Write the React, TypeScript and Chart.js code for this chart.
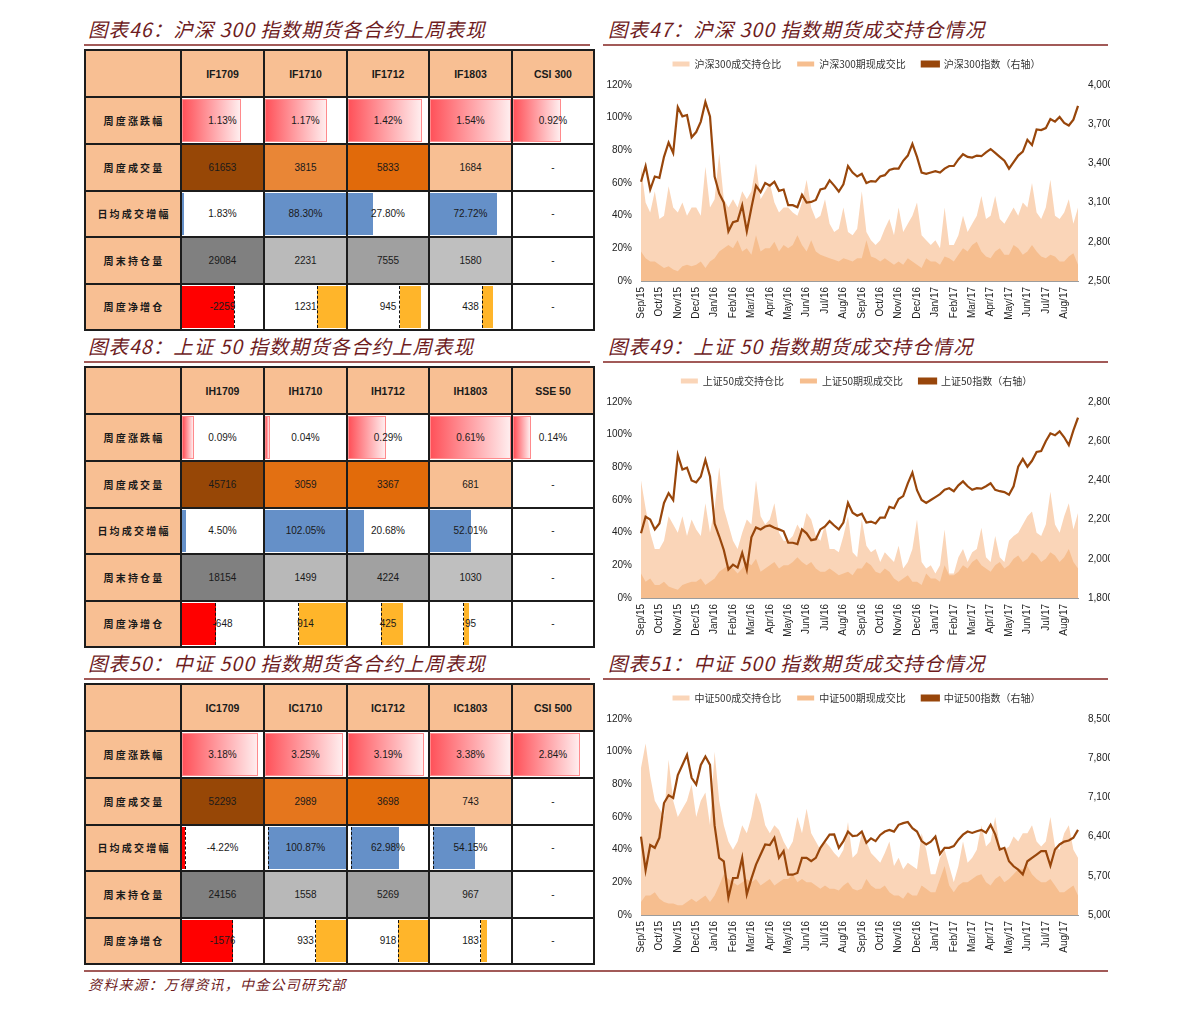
import React, { useEffect, useRef } from 'react';
import { Chart, registerables } from 'chart.js';
Chart.register(...registerables);

// ---------- chart data ----------
const months = ['Sep/15','Oct/15','Nov/15','Dec/15','Jan/16','Feb/16','Mar/16','Apr/16','May/16','Jun/16','Jul/16','Aug/16','Sep/16','Oct/16','Nov/16','Dec/16','Jan/17','Feb/17','Mar/17','Apr/17','May/17','Jun/17','Jul/17','Aug/17'];

const hs300Ratio = [70,48,42,55, 38,40,58,45, 42,48,40,45, 45,40,70,45, 50,78,50,45, 50,45,55,50, 55,72,50,55, 60,48,42,45, 45,42,40,48, 62,45,38,40, 50,35,30,32, 45,30,28,32, 55,30,25,22, 25,32,38,28, 45,30,35,40, 48,28,25,22, 25,20,45,22, 22,28,40,30, 35,40,52,38, 40,52,38,35, 40,45,40,48, 45,60,42,38, 45,62,40,38, 42,50,35,45];
const hs300FutSpot = [18,14,12,12, 10,8,9,7, 6,9,10,9, 10,12,8,12, 14,18,20,22, 20,25,18,20, 16,28,18,20, 20,24,18,22, 20,22,28,22, 18,25,18,16, 15,14,13,12, 14,13,12,14, 14,25,15,14, 12,14,12,10, 12,10,14,12, 10,8,14,12, 12,10,15,14, 12,16,20,18, 22,24,18,15, 14,18,20,16, 16,22,20,16, 18,22,18,15, 14,16,15,12, 12,15,17,10];
const hs300Index = [3260,3380,3200,3300, 3290,3450,3560,3480, 3830,3760,3770,3600, 3640,3720,3870,3760, 3300,3170,3100,2880, 2950,2960,3080,2880, 3060,3230,3180,3250, 3230,3260,3190,3200, 3080,3080,3065,3160, 3100,3105,3120,3200, 3210,3270,3230,3185, 3240,3380,3330,3300, 3320,3250,3265,3260, 3300,3310,3350,3360, 3360,3420,3460,3550, 3450,3330,3320,3330, 3340,3330,3360,3380, 3380,3430,3470,3450, 3445,3460,3455,3485, 3510,3480,3450,3420, 3360,3410,3460,3490, 3580,3540,3660,3655, 3670,3740,3720,3755, 3710,3690,3735,3840];

const sz50Ratio = [72,55,40,30, 30,35,50,45, 40,50,38,48, 42,38,58,40, 55,80,55,45, 35,30,40,48, 45,72,50,45, 48,58,40,35, 35,38,45,40, 52,48,38,35, 45,30,30,28, 38,50,28,25, 48,32,28,30, 22,28,25,22, 32,18,22,30, 48,22,18,20, 15,20,42,15, 15,25,30,22, 28,30,43,25, 22,38,25,22, 35,38,40,45, 50,53,40,38, 45,65,45,40, 50,58,42,52];
const sz50FutSpot = [15,10,12,8, 8,10,7,6, 5,8,9,10, 10,12,8,10, 12,16,18,20, 18,15,18,22, 20,24,16,18, 20,22,18,20, 20,22,25,22, 20,22,18,16, 16,18,16,14, 15,16,14,18, 18,22,20,16, 15,18,16,12, 10,12,14,10, 10,8,15,12, 12,10,20,14, 14,16,20,18, 22,24,20,18, 16,20,22,18, 20,24,26,22, 24,28,26,22, 24,28,26,22, 25,30,22,18];
const sz50Index = [2130,2215,2200,2150, 2180,2285,2335,2300, 2530,2455,2465,2400, 2390,2420,2505,2420, 2180,2115,2045,1945, 1970,1955,2030,1945, 2110,2160,2150,2165, 2170,2158,2150,2140, 2082,2082,2075,2150, 2130,2095,2100,2150, 2165,2192,2170,2150, 2185,2285,2235,2220, 2230,2185,2190,2180, 2210,2210,2265,2258, 2305,2320,2385,2440, 2350,2300,2285,2300, 2315,2330,2352,2360, 2345,2375,2395,2370, 2352,2360,2358,2370, 2385,2352,2345,2340, 2327,2370,2470,2510, 2470,2500,2545,2550, 2600,2640,2630,2650, 2620,2580,2655,2720];

const csi500Ratio = [90,105,85,70, 65,60,95,70, 60,65,70,80, 60,70,75,55, 100,70,55,45, 40,45,55,50, 60,75,68,55, 50,55,52,45, 40,45,60,50, 65,50,45,40, 45,42,38,35, 40,57,35,38, 50,45,38,35, 32,38,45,30, 35,28,32,30, 28,50,40,25, 25,35,40,30, 20,30,45,32, 35,40,55,42, 45,60,42,40, 42,48,45,50, 50,55,45,42, 45,60,42,40, 50,55,40,35];
const csi500FutSpot = [8,12,12,14, 10,8,7,7, 6,6,8,10, 8,10,12,8, 12,18,25,22, 20,18,20,22, 20,22,18,20, 22,18,20,22, 22,25,20,22, 20,20,18,16, 18,16,16,15, 18,20,16,15, 16,22,18,16, 16,18,14,12, 12,10,14,12, 12,18,16,14, 14,22,30,18, 14,18,20,20, 22,24,25,20, 18,22,24,20, 22,25,28,28, 30,25,22,20, 20,22,18,14, 14,16,18,12];
const csi500Index = [6400,5800,6250,6200, 6380,7000,7140,7090, 7500,7680,7860,7450, 7330,7680,7830,7680, 6600,6020,5960,5310, 5660,5665,6020,5370, 5650,5900,6080,6260, 6250,6380,6020,6140, 5720,5720,5750,6020, 6020,5960,6020,6200, 6320,6435,6440,6200, 6320,6490,6410,6420, 6490,6290,6370,6320, 6430,6490,6520,6490, 6610,6640,6660,6550, 6490,6320,6260,6310, 6400,6090,6200,6200, 6230,6345,6435,6490, 6465,6495,6520,6470, 6610,6440,6170,6200, 5960,5870,5810,5725, 5960,6020,6080,6140, 6140,5880,6170,6260, 6310,6330,6380,6520];

// ---------- table data ----------
const rowLabels = ['周度涨跌幅', '周度成交量', '日均成交增幅', '周末持仓量', '周度净增仓'];

const ifHeads = ['IF1709', 'IF1710', 'IF1712', 'IF1803', 'CSI 300'];
const ifChange = [1.13, 1.17, 1.42, 1.54, 0.92];
const ifVolume = [61653, 3815, 5833, 1684];
const ifDailyChg = [1.83, 88.30, 27.80, 72.72];
const ifOI = [29084, 2231, 7555, 1580];
const ifNetOI = [-2259, 1231, 945, 438];

const ihHeads = ['IH1709', 'IH1710', 'IH1712', 'IH1803', 'SSE 50'];
const ihChange = [0.09, 0.04, 0.29, 0.61, 0.14];
const ihVolume = [45716, 3059, 3367, 681];
const ihDailyChg = [4.50, 102.05, 20.68, 52.01];
const ihOI = [18154, 1499, 4224, 1030];
const ihNetOI = [-648, 914, 425, 95];

const icHeads = ['IC1709', 'IC1710', 'IC1712', 'IC1803', 'CSI 500'];
const icChange = [3.18, 3.25, 3.19, 3.38, 2.84];
const icVolume = [52293, 2989, 3698, 743];
const icDailyChg = [-4.22, 100.87, 62.98, 54.15];
const icOI = [24156, 1558, 5269, 967];
const icNetOI = [-1576, 933, 918, 183];

// ---------- styles ----------
const LIGHT = '#FAD5B8';
const DARK = '#F6BE8F';
const BROWN = '#98460B';
const PEACH = '#F8BF93';
const TITLE_RED = '#6E1C1E';
const RULE = '#A25A58';
const CJK = '"Noto Sans CJK SC", "Noto Sans", sans-serif';
const LAT = '"Liberation Sans", Arial, sans-serif';

function hexToRgb(h: string) {
  const n = parseInt(h.slice(1), 16);
  return [(n >> 16) & 255, (n >> 8) & 255, n & 255];
}
function mix(a: string, b: string, t: number) {
  const A = hexToRgb(a), B = hexToRgb(b);
  const c = A.map((v, i) => Math.round(v + (B[i] - v) * t));
  return `rgb(${c[0]},${c[1]},${c[2]})`;
}
function scale3(v: number, arr: number[], cMin: string, cMid: string, cMax: string) {
  const s = [...arr].sort((a, b) => a - b);
  const min = s[0], max = s[s.length - 1];
  const n = s.length;
  const mid = n % 2 ? s[(n - 1) / 2] : (s[n / 2 - 1] + s[n / 2]) / 2;
  if (v <= mid) return mix(cMin, cMid, mid === min ? 0 : (v - min) / (mid - min));
  return mix(cMid, cMax, max === mid ? 1 : (v - mid) / (max - mid));
}

const colX = [0, 96, 179, 262, 344, 427, 509];
const rowY = [0, 47, 94, 140.5, 187, 233.5, 280];

type TableProps = {
  top: number; heads: string[]; change: number[]; volume: number[];
  daily: number[]; oi: number[]; net: number[];
};

function DataTable({ top, heads, change, volume, daily, oi, net }: TableProps) {
  const cells: React.ReactNode[] = [];
  const left = 85;
  const cellBox = (r: number, c: number) => ({
    position: 'absolute' as const,
    left: colX[c], top: rowY[r],
    width: colX[c + 1] - colX[c], height: rowY[r + 1] - rowY[r],
  });
  const text = (t: string, bold = false, font = LAT) => (
    <div style={{ position: 'absolute', inset: 0, display: 'flex', alignItems: 'center', justifyContent: 'center', fontFamily: font, fontSize: bold ? 10.5 : 10, fontWeight: bold ? 700 : 400, color: '#1a1a1a', zIndex: 2 }}>{t}</div>
  );

  for (let c = 0; c < 6; c++) {
    cells.push(
      <div key={`h${c}`} style={{ ...cellBox(0, c), background: PEACH }}>
        {c > 0 ? text(heads[c - 1], true) : null}
      </div>
    );
  }
  for (let r = 1; r <= 5; r++) {
    cells.push(
      <div key={`l${r}`} style={{ ...cellBox(r, 0), background: PEACH, display: 'flex', alignItems: 'center', justifyContent: 'center' }}>
        <span style={{ fontFamily: CJK, fontSize: 10, fontWeight: 700, letterSpacing: 2.2, color: '#1a1a1a', paddingLeft: 2 }}>{rowLabels[r - 1]}</span>
      </div>
    );
  }

  const maxChange = Math.max(...change);
  for (let i = 0; i < 5; i++) {
    const c = i + 1;
    const w = colX[c + 1] - colX[c] - 2;
    const bw = (change[i] / maxChange) * w;
    cells.push(
      <div key={`r1${i}`} style={{ ...cellBox(1, c), background: '#fff' }}>
        <div style={{ position: 'absolute', left: 1, top: 2, bottom: 2, width: bw, boxSizing: 'border-box', border: '1px solid #FF8A8C', background: 'linear-gradient(to right, #FF525A, #FFEDEE)' }} />
        {text(change[i].toFixed(2) + '%')}
      </div>
    );
  }

  const barRow = (row: number, vals: number[], pos: string, neg: string, fmt: (v: number) => string) => {
    const mn = Math.min(0, ...vals);
    const mx = Math.max(0, ...vals);
    const range = mx - mn;
    for (let i = 0; i < 4; i++) {
      const c = i + 1;
      const w = colX[c + 1] - colX[c] - 2;
      const axis = (-mn / range) * w;
      const v = vals[i];
      const len = (Math.abs(v) / range) * w;
      const bl = v >= 0 ? axis : axis - len;
      cells.push(
        <div key={`r${row}${i}`} style={{ ...cellBox(row, c), background: '#fff' }}>
          <div style={{ position: 'absolute', left: 1 + bl, top: 2, bottom: 2, width: len, background: v >= 0 ? pos : neg }} />
          {mn < 0 ? <div style={{ position: 'absolute', left: 1 + axis - 0.5, top: 2, bottom: 2, width: 0, borderLeft: '1.5px dashed #111' }} /> : null}
          {text(fmt(v))}
        </div>
      );
    }
    cells.push(<div key={`r${row}x`} style={{ ...cellBox(row, 5), background: '#fff' }}>{text('-')}</div>);
  };

  for (let i = 0; i < 4; i++) {
    cells.push(
      <div key={`r2${i}`} style={{ ...cellBox(2, i + 1), background: scale3(volume[i], volume, PEACH, '#E26B0A', '#974706') }}>
        {text(String(volume[i]))}
      </div>
    );
  }
  cells.push(<div key="r2x" style={{ ...cellBox(2, 5), background: '#fff' }}>{text('-')}</div>);

  barRow(3, daily, '#6590C8', '#FF0000', (v) => v.toFixed(2) + '%');

  for (let i = 0; i < 4; i++) {
    cells.push(
      <div key={`r4${i}`} style={{ ...cellBox(4, i + 1), background: scale3(oi[i], oi, '#BFBFBF', '#A4A4A4', '#808080') }}>
        {text(String(oi[i]))}
      </div>
    );
  }
  cells.push(<div key="r4x" style={{ ...cellBox(4, 5), background: '#fff' }}>{text('-')}</div>);

  barRow(5, net, '#FFB52A', '#FF0000', (v) => String(v));

  const lines: React.ReactNode[] = [];
  colX.forEach((x, i) => lines.push(<div key={`vx${i}`} style={{ position: 'absolute', left: x - 1, top: -1, width: 2, height: 282, background: '#1c1c1c', zIndex: 3 }} />));
  rowY.forEach((y, i) => lines.push(<div key={`hy${i}`} style={{ position: 'absolute', left: -1, top: y - 1, width: 511, height: 2, background: '#1c1c1c', zIndex: 3 }} />));

  return (
    <div style={{ position: 'absolute', left, top, width: 509, height: 280 }}>
      {cells}
      {lines}
    </div>
  );
}

type ChartProps = {
  top: number; light: number[]; dark: number[]; index: number[];
  names: string[]; rMin: number; rMax: number; rStep: number;
};

const legendGap = {
  id: 'legendGap',
  beforeInit(chart: any) {
    const lg = chart.legend;
    if (!lg) return;
    const fit = lg.fit;
    lg.fit = function () {
      fit.bind(lg)();
      lg.height += 6;
    };
  },
};

function AreaLineChart({ top, light, dark, index, names, rMin, rMax, rStep }: ChartProps) {
  const ref = useRef<HTMLCanvasElement>(null);
  useEffect(() => {
    const labels = months.flatMap((m) => [m, '', '', '']);
    const tickFont = { family: LAT, size: 10 };
    const chart = new Chart(ref.current as HTMLCanvasElement, {
      type: 'line',
      data: {
        labels,
        datasets: [
          { label: names[0], data: light, yAxisID: 'y', fill: 'origin', backgroundColor: LIGHT, borderColor: 'rgba(0,0,0,0)', borderWidth: 0, pointRadius: 0, order: 3 },
          { label: names[1], data: dark, yAxisID: 'y', fill: 'origin', backgroundColor: DARK, borderColor: 'rgba(0,0,0,0)', borderWidth: 0, pointRadius: 0, order: 2 },
          { label: names[2], data: index, yAxisID: 'y1', fill: false, backgroundColor: BROWN, borderColor: BROWN, borderWidth: 2.2, pointRadius: 0, order: 1 },
        ],
      },
      plugins: [legendGap],
      options: {
        animation: false,
        responsive: false,
        maintainAspectRatio: false,
        layout: { padding: 0 },
        plugins: {
          legend: {
            display: true,
            position: 'top',
            labels: {
              boxWidth: 17, boxHeight: 5, padding: 16,
              font: { family: CJK, size: 10 }, color: '#333',
              sort: (a: any, b: any) => a.datasetIndex - b.datasetIndex,
            },
          },
          tooltip: { enabled: false },
        },
        scales: {
          x: {
            type: 'category',
            offset: false,
            grid: { display: false, drawTicks: false },
            border: { display: true, color: '#9C9C9C', width: 1 },
            ticks: {
              autoSkip: false, maxRotation: 90, minRotation: 90, padding: 6,
              font: tickFont, color: '#222',
              callback: (_v: any, i: number) => (i % 4 === 0 ? months[i / 4] : ''),
            },
            afterFit: (s: any) => { s.height = 49; },
          },
          y: {
            position: 'left', min: 0, max: 120,
            grid: { display: false, drawTicks: false }, border: { display: false },
            ticks: { stepSize: 20, padding: 9, font: tickFont, color: '#222', callback: (v: any) => v + '%' },
            afterFit: (s: any) => { s.width = 38; },
          },
          y1: {
            position: 'right', min: rMin, max: rMax,
            grid: { display: false, drawTicks: false }, border: { display: false },
            ticks: { stepSize: rStep, padding: 10, font: tickFont, color: '#222', callback: (v: any) => Number(v).toLocaleString('en-US') },
            afterFit: (s: any) => { s.width = 32; },
          },
        },
      } as any,
    });
    return () => chart.destroy();
  }, []);
  return <canvas ref={ref} width={507} height={287} style={{ position: 'absolute', left: 603, top, width: 507, height: 287 }} />;
}

function Title({ x, y, text }: { x: number; y: number; text: string }) {
  return (
    <div style={{ position: 'absolute', left: x, top: y, fontFamily: CJK, fontStyle: 'italic', fontSize: 19.5, letterSpacing: 1, color: TITLE_RED, whiteSpace: 'nowrap', lineHeight: '24px' }}>{text}</div>
  );
}
function Rule({ x, y, w }: { x: number; y: number; w: number }) {
  return <div style={{ position: 'absolute', left: x, top: y, width: w, height: 2, background: RULE }} />;
}

export default function App() {
  return (
    <div style={{ position: 'absolute', left: 0, top: 0, width: 1191, height: 1012, background: '#fff', overflow: 'hidden' }}>
      <Title x={88} y={17} text="图表46：沪深 300 指数期货各合约上周表现" />
      <Title x={608} y={17} text="图表47：沪深 300 指数期货成交持仓情况" />
      <Rule x={84} y={44} w={506} />
      <Rule x={603} y={44} w={505} />

      <Title x={88} y={334} text="图表48：上证 50 指数期货各合约上周表现" />
      <Title x={608} y={334} text="图表49：上证 50 指数期货成交持仓情况" />
      <Rule x={84} y={361} w={506} />
      <Rule x={603} y={361} w={505} />

      <Title x={88} y={651} text="图表50：中证 500 指数期货各合约上周表现" />
      <Title x={608} y={651} text="图表51：中证 500 指数期货成交持仓情况" />
      <Rule x={84} y={678} w={506} />
      <Rule x={603} y={678} w={505} />

      <DataTable top={50} heads={ifHeads} change={ifChange} volume={ifVolume} daily={ifDailyChg} oi={ifOI} net={ifNetOI} />
      <DataTable top={367} heads={ihHeads} change={ihChange} volume={ihVolume} daily={ihDailyChg} oi={ihOI} net={ihNetOI} />
      <DataTable top={684} heads={icHeads} change={icChange} volume={icVolume} daily={icDailyChg} oi={icOI} net={icNetOI} />

      <AreaLineChart top={43} light={hs300Ratio} dark={hs300FutSpot} index={hs300Index}
        names={['沪深300成交持仓比', '沪深300期现成交比', '沪深300指数（右轴）']} rMin={2500} rMax={4000} rStep={300} />
      <AreaLineChart top={360} light={sz50Ratio} dark={sz50FutSpot} index={sz50Index}
        names={['上证50成交持仓比', '上证50期现成交比', '上证50指数（右轴）']} rMin={1800} rMax={2800} rStep={200} />
      <AreaLineChart top={677} light={csi500Ratio} dark={csi500FutSpot} index={csi500Index}
        names={['中证500成交持仓比', '中证500期现成交比', '中证500指数（右轴）']} rMin={5000} rMax={8500} rStep={700} />

      <Rule x={84} y={970} w={1024} />
      <div style={{ position: 'absolute', left: 88, top: 974, fontFamily: CJK, fontStyle: 'italic', fontSize: 14, letterSpacing: 1.2, color: TITLE_RED, whiteSpace: 'nowrap' }}>资料来源：万得资讯，中金公司研究部</div>
    </div>
  );
}
